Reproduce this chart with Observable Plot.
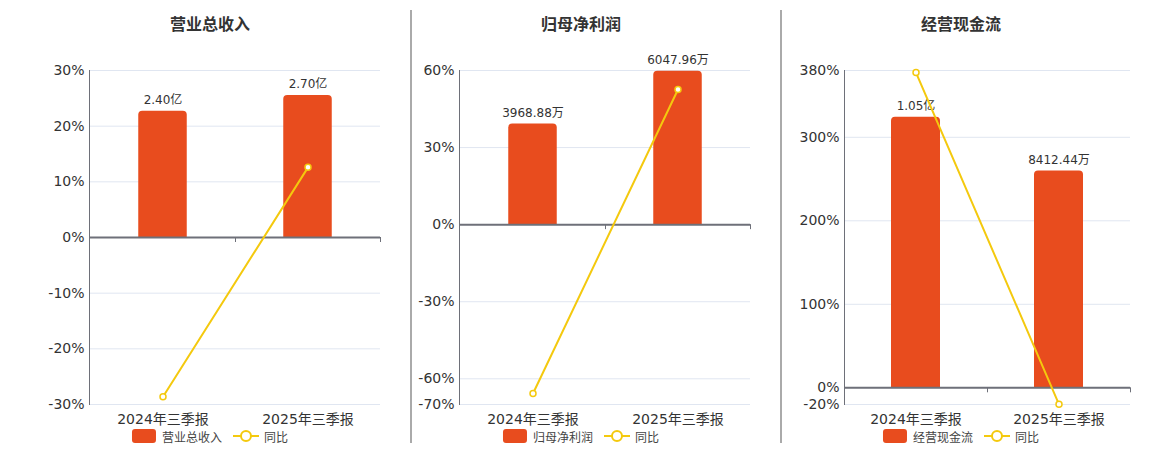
<!DOCTYPE html>
<html><head><meta charset="utf-8">
<script src="https://cdn.jsdelivr.net/npm/d3@7"></script>
<script src="https://cdn.jsdelivr.net/npm/@observablehq/plot@0.6"></script>
<style>
body{margin:0;background:#fff;font-family:'DejaVu Sans','Noto Sans CJK SC',sans-serif;}
#root{position:relative;width:1160px;height:450px;overflow:hidden;background:#fff;}
#root svg{position:absolute;top:0;}
.title{position:absolute;top:11px;font-size:16px;font-weight:bold;color:#333;transform:translateX(-50%);white-space:nowrap;font-family:'Noto Sans CJK SC',sans-serif;}
.legend{position:absolute;top:428px;transform:translateX(-50%);display:flex;align-items:center;font-size:12px;color:#444;white-space:nowrap;font-family:'Noto Sans CJK SC',sans-serif;height:16px;}
.sw{width:24px;height:14px;border-radius:3px;background:#e84c1e;margin-right:6px;}
.sep{position:absolute;width:1.5px;background:#aaa;top:10px;height:433px;}
</style></head><body><div id="root"></div>
<script>
// ---- data ----
const categories = ["2024年三季报", "2025年三季报"];
const titles = ["营业总收入", "归母净利润", "经营现金流"];
const barName = ["营业总收入", "归母净利润", "经营现金流"];
const lineName = "同比";

const revenueValues = [2.40, 2.70];          // 亿
const revenueLabels = ["2.40亿", "2.70亿"];
const revenueYoY = [-28.6, 12.6];            // %
const revenueTicks = [-30, -20, -10, 0, 10, 20, 30];

const profitValues = [3968.88, 6047.96];     // 万
const profitLabels = ["3968.88万", "6047.96万"];
const profitYoY = [-65.7, 52.6];
const profitTicks = [-70, -60, -30, 0, 30, 60];

const cashValues = [10500, 8412.44];         // 万
const cashLabels = ["1.05亿", "8412.44万"];
const cashYoY = [377.5, -19.8];
const cashTicks = [-20, 0, 100, 200, 300, 380];

// ---- scale settings ----
const barTops = [3.173, 6075, 12310];   // bar-axis maximum aligned with the % axis maximum

// ---- layout ----
const layout = [
  {left: 0,   width: 400, ml: 89,  mr: 20, center: 210},
  {left: 370, width: 400, ml: 89,  mr: 20, center: 581},
  {left: 740, width: 410, ml: 104, mr: 20, center: 961}
];
const separators = [410, 780];

const RED = "#e84c1e", YELLOW = "#f4c90e", AXIS = "#6e7079", GRID = "#e0e6f1";
const FONT = "'DejaVu Sans','Noto Sans CJK SC',sans-serif";

const panels = [
  {values: revenueValues, labels: revenueLabels, yoy: revenueYoY, ticks: revenueTicks},
  {values: profitValues, labels: profitLabels, yoy: profitYoY, ticks: profitTicks},
  {values: cashValues, labels: cashLabels, yoy: cashYoY, ticks: cashTicks}
];

const root = document.getElementById("root");

panels.forEach((p, k) => {
  const L = layout[k];
  const table = categories.map((c, i) => ({cat: c, value: p.values[i], label: p.labels[i], yoy: p.yoy[i]}));
  const pctDomain = [d3.min(p.ticks), d3.max(p.ticks)];
  const barTop = barTops[k];
  const barDomain = [barTop * pctDomain[0] / pctDomain[1], barTop];
  const band = (L.width - L.ml - L.mr) / categories.length;
  const inset = (band - 49) / 2;

  const base = {
    width: L.width, height: 450,
    marginTop: 70, marginBottom: 46, marginLeft: L.ml, marginRight: L.mr,
    x: {type: "band", domain: categories, padding: 0, axis: null},
    style: {fontFamily: FONT, fontSize: "14px", color: "#333", background: "transparent", overflow: "visible"}
  };

  // Layer A: grid
  const gridLayer = Plot.plot({
    ...base,
    y: {domain: pctDomain, axis: null},
    marks: [Plot.gridY(p.ticks, {stroke: GRID, strokeOpacity: 1, strokeWidth: 1})]
  });

  // Layer B: bars
  const barLayer = Plot.plot({
    ...base,
    y: {domain: barDomain, axis: null},
    marks: [
      Plot.barY(table, {x: "cat", y: "value", fill: RED, insetLeft: inset, insetRight: inset, ry1: 4}),
      Plot.text(table, {x: "cat", y: "value", text: "label", dy: -11, fontSize: 12, fill: "#333"})
    ]
  });

  // Layer C: axes and YoY line
  const boundaryTicks = (index, scales, values, dims) => {
    const y0 = scales.y(0);
    const r0 = dims.marginLeft, r1 = dims.width - dims.marginRight;
    const n = categories.length;
    const g = d3.create("svg:g");
    for (let i = 0; i <= n; i++) {
      const xx = Math.round(r0 + (r1 - r0) * i / n) + 0.5;
      g.append("line").attr("x1", xx).attr("x2", xx).attr("y1", y0).attr("y2", y0 + 5)
        .attr("stroke", AXIS).attr("stroke-width", 1);
    }
    return g.node();
  };

  const axisLayer = Plot.plot({
    ...base,
    y: {domain: pctDomain, axis: null},
    marks: [
      Plot.frame({anchor: "left", stroke: AXIS, strokeWidth: 1}),
      Plot.ruleY([0], {stroke: AXIS, strokeWidth: 2}),
      boundaryTicks,
      Plot.axisY(p.ticks, {tickSize: 0, tickPadding: 5, tickFormat: d => d + "%", fontSize: 14, label: null}),
      Plot.axisX({tickSize: 0, tickPadding: 10, fontSize: 14, label: null}),
      Plot.line(table, {x: "cat", y: "yoy", stroke: YELLOW, strokeWidth: 2}),
      Plot.dot(table, {x: "cat", y: "yoy", r: 3, fill: "#fff", stroke: YELLOW, strokeWidth: 1.5})
    ]
  });

  [gridLayer, barLayer, axisLayer].forEach(svg => {
    svg.style.left = L.left + "px";
    root.appendChild(svg);
  });

  const t = document.createElement("div");
  t.className = "title";
  t.style.left = L.center + "px";
  t.textContent = titles[k];
  root.appendChild(t);

  const lg = document.createElement("div");
  lg.className = "legend";
  lg.style.left = L.center + "px";
  lg.innerHTML = `<div class="sw"></div><span>${barName[k]}</span>` +
    `<svg width="26" height="14" style="position:static;margin-left:11px;margin-right:5px"><line x1="0" x2="26" y1="7" y2="7" stroke="${YELLOW}" stroke-width="2"/><circle cx="13" cy="7" r="5" fill="#fff" stroke="${YELLOW}" stroke-width="2"/></svg><span>${lineName}</span>`;
  root.appendChild(lg);
});

separators.forEach(x => {
  const s = document.createElement("div");
  s.className = "sep";
  s.style.left = x + "px";
  root.appendChild(s);
});
</script></body></html>
